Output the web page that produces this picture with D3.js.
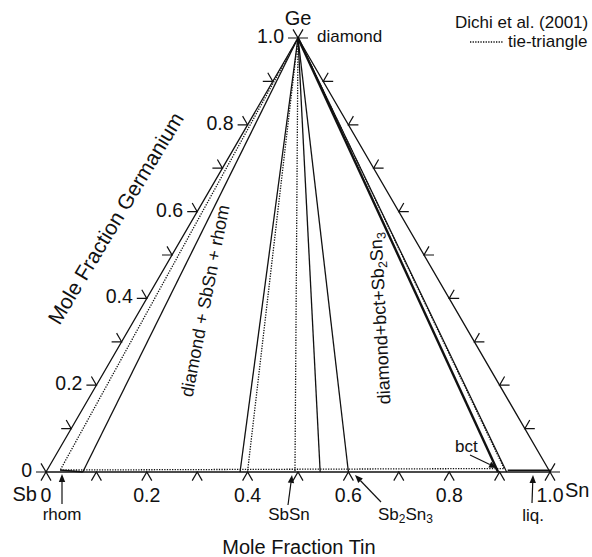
<!DOCTYPE html>
<html>
<head>
<meta charset="utf-8">
<script src="https://cdn.jsdelivr.net/npm/d3@7"></script>
<style>
  html, body { margin: 0; padding: 0; background: #fff; }
  svg { display: block; }
  text { font-family: "Liberation Sans", Arial, Helvetica, sans-serif; fill: #111; }
</style>
</head>
<body>
<script>
// Ge–Sb–Sn isothermal section (mole fractions)
const tickValues = [0, 0.1, 0.2, 0.3, 0.4, 0.5, 0.6, 0.7, 0.8, 0.9, 1.0];
const labelValues = [0, 0.2, 0.4, 0.6, 0.8, 1.0];
const labelTexts = ["0", "0.2", "0.4", "0.6", "0.8", "1.0"];

// Phase boundaries running from pure Ge down to the Sb–Sn side (Sn fraction at the foot)
const solidTieSn = [0.073, 0.385, 0.544, 0.600, 0.897, 0.914];
const solidTieWidth = [1.3, 1.3, 1.3, 1.3, 2.4, 1.2];
// Tie-triangle edges (Dichi et al. 2001): Sn fraction and Ge fraction at the foot
const dottedTieSn = [0.026, 0.399, 0.493, 0.905];
const dottedTieGe = [0.0045, 0.002, 0.002, 0.008];

// Near-binary boundaries along the Sb–Sn side: [sn0, ge0, sn1, ge1]
const baseSolid = [[0.026, 0.0045, 0.073, 0.0], [0.914, 0.004, 1.0, 0.004]];
const baseDotted = [[0.026, 0.0045, 0.905, 0.008]];

const W = 592, H = 557;
const svg = d3.select("body").append("svg").attr("width", W).attr("height", H);

// Sb at x(0), Sn at x(1); Ge apex above x(0.5)
const x = d3.scaleLinear().domain([0, 1]).range([46, 550]);
const y = d3.scaleLinear().domain([0, 1]).range([472, 38]);
const pt = (sn, ge) => [x(sn + ge / 2), y(ge)];
const line = d3.line();

const g = svg.append("g").attr("stroke", "#111").attr("fill", "none").attr("stroke-linecap", "butt");

// triangle frame
g.append("path").attr("d", line([pt(0, 0), pt(1, 0), pt(0, 1)]) + "Z").attr("stroke-width", 1.3);

// tick marks
const arm = 10, c60 = arm * 0.5, s60 = arm * Math.sqrt(3) / 2;
tickValues.forEach(v => {
  // Sn fraction, bottom side
  const [bx, by] = pt(v, 0);
  g.append("path").attr("d", line([[bx - c60, by + s60], [bx, by], [bx + c60, by + s60]])).attr("stroke-width", 1.2);
  // Ge fraction, left side
  const [lx, ly] = pt(0, v);
  g.append("path").attr("d", line([[lx - arm, ly], [lx, ly], [lx - c60, ly - s60]])).attr("stroke-width", 1.2);
  // right side
  const [rx, ry] = pt(1 - v, v);
  g.append("path").attr("d", line([[rx + arm, ry], [rx, ry], [rx + c60, ry - s60]])).attr("stroke-width", 1.2);
});

// boundaries from Ge
solidTieSn.forEach((sn, i) => {
  g.append("path").attr("d", line([pt(0, 1), pt(sn, 0)])).attr("stroke-width", solidTieWidth[i]);
});
dottedTieSn.forEach((sn, i) => {
  g.append("path").attr("d", line([pt(0, 1), pt(sn, dottedTieGe[i])]))
    .attr("stroke-width", 1.3).attr("stroke-dasharray", "1.3,1.3");
});
baseSolid.forEach(s => {
  g.append("path").attr("d", line([pt(s[0], s[1]), pt(s[2], s[3])])).attr("stroke-width", 1.5);
});
baseDotted.forEach(s => {
  g.append("path").attr("d", line([pt(s[0], s[1]), pt(s[2], s[3])]))
    .attr("stroke-width", 1.3).attr("stroke-dasharray", "1.3,1.3");
});

// tick labels
const T = svg.append("g");
labelValues.forEach((v, i) => {
  const [bx] = pt(v, 0);
  T.append("text").attr("x", bx).attr("y", 502).attr("text-anchor", "middle")
    .attr("font-size", 19.5).text(labelTexts[i]);
  const [lx, ly] = pt(0, v);
  T.append("text").attr("x", lx - 14).attr("y", ly + 5).attr("text-anchor", "end")
    .attr("font-size", 19.5).text(labelTexts[i]);
});

// vertex names
T.append("text").attr("x", 37).attr("y", 501).attr("text-anchor", "end").attr("font-size", 20).text("Sb");
T.append("text").attr("x", 565).attr("y", 497).attr("font-size", 20).text("Sn");
T.append("text").attr("x", 298).attr("y", 25).attr("text-anchor", "middle").attr("font-size", 20).text("Ge");
T.append("text").attr("x", 317).attr("y", 42).attr("font-size", 17).text("diamond");

// axis titles
T.append("text").attr("x", 299).attr("y", 554).attr("text-anchor", "middle").attr("font-size", 20).text("Mole Fraction Tin");
T.append("text").attr("transform", "translate(122,222) rotate(-59)").attr("text-anchor", "middle")
  .attr("font-size", 21).text("Mole Fraction Germanium");

// field labels
T.append("text").attr("transform", "translate(211,302) rotate(-79)").attr("text-anchor", "middle")
  .attr("font-size", 18).text("diamond + SbSn + rhom");
const f2 = T.append("text").attr("transform", "translate(386,318) rotate(-93)").attr("text-anchor", "middle")
  .attr("font-size", 18);
f2.append("tspan").text("diamond+bct+Sb");
f2.append("tspan").attr("font-size", 12.5).attr("dy", 4).text("2");
f2.append("tspan").attr("dy", -4).text("Sn");
f2.append("tspan").attr("font-size", 12.5).attr("dy", 4).text("3");

// legend
T.append("text").attr("x", 455).attr("y", 28).attr("font-size", 17).text("Dichi et al. (2001)");
g.append("path").attr("d", line([[470, 42], [503, 42]])).attr("stroke-width", 1.3).attr("stroke-dasharray", "1.3,1.3");
T.append("text").attr("x", 508).attr("y", 47).attr("font-size", 17).text("tie-triangle");

// phase labels with pointers
const A = svg.append("g");
function pointer(x1, y1, x2, y2) {
  const ang = Math.atan2(y2 - y1, x2 - x1), L = 8, w = 3.2;
  const bx = x2 - L * Math.cos(ang), by = y2 - L * Math.sin(ang);
  A.append("path").attr("d", line([[x1, y1], [bx, by]])).attr("stroke", "#111").attr("stroke-width", 1.2);
  A.append("path").attr("d", line([[x2, y2],
    [bx + w * Math.sin(ang), by - w * Math.cos(ang)],
    [bx - w * Math.sin(ang), by + w * Math.cos(ang)]]) + "Z").attr("fill", "#111");
}
pointer(62, 504, 62, 474);
T.append("text").attr("x", 62).attr("y", 520).attr("text-anchor", "middle").attr("font-size", 17).text("rhom");
pointer(288, 505, 292, 475);
T.append("text").attr("x", 289).attr("y", 520).attr("text-anchor", "middle").attr("font-size", 17).text("SbSn");
pointer(381, 502, 355, 475);
const s23 = T.append("text").attr("x", 378).attr("y", 520).attr("font-size", 17);
s23.append("tspan").text("Sb");
s23.append("tspan").attr("font-size", 12).attr("dy", 3).text("2");
s23.append("tspan").attr("dy", -3).text("Sn");
s23.append("tspan").attr("font-size", 12).attr("dy", 3).text("3");
pointer(470, 455, 497, 468);
T.append("text").attr("x", 455).attr("y", 452).attr("font-size", 17).text("bct");
pointer(532, 503, 533, 475);
T.append("text").attr("x", 533).attr("y", 521).attr("text-anchor", "middle").attr("font-size", 17).text("liq.");
</script>
</body>
</html>
